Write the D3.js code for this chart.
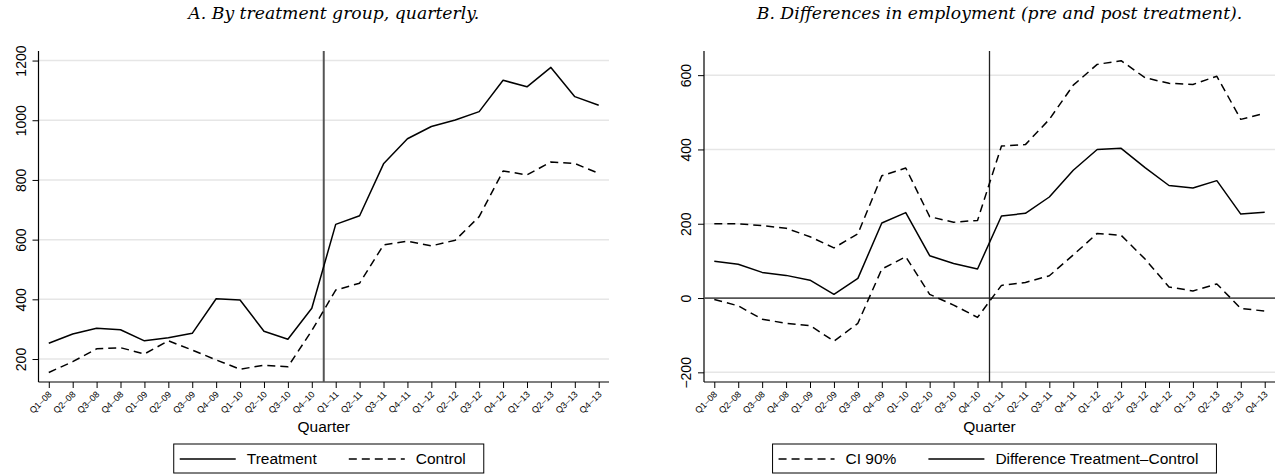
<!DOCTYPE html>
<html>
<head>
<meta charset="utf-8">
<script src="https://cdn.jsdelivr.net/npm/d3@7"></script>
<style>
  html, body { margin: 0; padding: 0; background: #fff; }
  svg { display: block; }
</style>
</head>
<body>
<svg id="chart" width="1278" height="476"></svg>
<script>
const quarters = ["Q1–08","Q2–08","Q3–08","Q4–08","Q1–09","Q2–09","Q3–09","Q4–09",
  "Q1–10","Q2–10","Q3–10","Q4–10","Q1–11","Q2–11","Q3–11","Q4–11",
  "Q1–12","Q2–12","Q3–12","Q4–12","Q1–13","Q2–13","Q3–13","Q4–13"];

const treatment = [253, 284, 303, 298, 261, 271, 286, 402, 398, 293, 266, 370,
  651, 680, 854, 938, 979, 1001, 1029, 1134, 1112, 1177, 1079, 1050];
const control = [155, 191, 234, 238, 217, 261, 230, 197, 166, 179, 174, 295,
  431, 454, 582, 595, 579, 598, 677, 830, 817, 860, 855, 822];

const difference = [99, 91, 69, 61, 48, 10, 53, 202, 230, 114, 93, 78,
  221, 228, 272, 344, 400, 403, 351, 303, 296, 316, 226, 231];
const ciUpper = [200, 200, 195, 188, 165, 135, 173, 329, 350, 219, 204, 209,
  409, 413, 481, 573, 629, 639, 593, 578, 575, 597, 481, 497];
const ciLower = [-4, -21, -57, -68, -74, -116, -68, 78, 111, 10, -19, -52,
  34, 42, 60, 116, 174, 169, 105, 30, 19, 38, -28, -35];

const yTicksA = [200, 400, 600, 800, 1000, 1200];
const yTicksB = [-200, 0, 200, 400, 600];

const titleA = "A. By treatment group, quarterly.";
const titleB = "B. Differences in employment (pre and post treatment).";
const xTitle = "Quarter";
const legendA = [{label: "Treatment", dash: null}, {label: "Control", dash: "8,5"}];
const legendB = [{label: "CI 90%", dash: "8,5"}, {label: "Difference Treatment–Control", dash: null}];

const svg = d3.select("#chart");
const SANS = "'Liberation Sans', Arial, Helvetica, sans-serif";
const SERIF = "'DejaVu Serif', 'Liberation Serif', serif";

// fit the title font so that title B spans ~486px; use the same size for A
const probe = svg.append("text").style("font-family", SERIF).style("font-style", "italic")
  .style("font-size", "14px").text(titleB);
const titleSize = 14 * 486 / probe.node().getComputedTextLength();
probe.remove();

function panel(cfg) {
  const g = svg.append("g");
  const x = d3.scalePoint().domain(quarters).range([cfg.left, cfg.right]).padding(0.43);
  const y = d3.scaleLinear().domain(cfg.yDomain).range([cfg.bottom, cfg.top]);

  // gridlines
  g.append("g").selectAll("line").data(cfg.yTicks.filter(t => t !== 0 || !cfg.zeroLine)).join("line")
    .attr("x1", cfg.left).attr("x2", cfg.right)
    .attr("y1", d => y(d)).attr("y2", d => y(d))
    .attr("stroke", "#e6e6e6").attr("stroke-width", 1.5);

  // y axis
  const yAxis = g.append("g").attr("transform", `translate(${cfg.left},0)`)
    .call(d3.axisLeft(y).tickValues(cfg.yTicks).tickSize(6).tickPadding(0).tickFormat(d3.format("d")));
  yAxis.select(".domain").attr("d", `M0,${cfg.top}V${cfg.bottom}`).attr("stroke", "#000").attr("stroke-width", 1.2);
  yAxis.selectAll(".tick line").attr("stroke", "#000").attr("stroke-width", 1);
  yAxis.selectAll(".tick text")
    .attr("transform", "rotate(-90)")
    .attr("x", 0).attr("y", -13).attr("dy", 0)
    .attr("text-anchor", "middle")
    .style("font-family", SANS).style("font-size", "14px").attr("fill", "#000");

  // x axis
  const xAxis = g.append("g").attr("transform", `translate(0,${cfg.bottom})`)
    .call(d3.axisBottom(x).tickSize(6).tickPadding(0));
  xAxis.select(".domain").attr("d", `M${cfg.left},0H${cfg.right}`).attr("stroke", "#000").attr("stroke-width", 1.2);
  xAxis.selectAll(".tick line").attr("stroke", "#000").attr("stroke-width", 1);
  xAxis.selectAll(".tick text")
    .attr("y", 0).attr("dy", 0)
    .attr("text-anchor", "end")
    .attr("transform", "translate(3,13) rotate(-45)")
    .style("font-family", SANS).style("font-size", "9px").attr("fill", "#000");

  // zero line
  if (cfg.zeroLine) {
    g.append("line").attr("x1", cfg.left).attr("x2", cfg.right)
      .attr("y1", y(0)).attr("y2", y(0))
      .attr("stroke", "#555").attr("stroke-width", 1.8);
  }

  // vertical treatment line
  const vx = (x("Q4–10") + x("Q1–11")) / 2;
  g.append("line").attr("x1", vx).attr("x2", vx).attr("y1", cfg.top).attr("y2", cfg.bottom)
    .attr("stroke", cfg.vColor).attr("stroke-width", cfg.vWidth);

  // series
  const line = d3.line().x((d, i) => x(quarters[i])).y(d => y(d));
  cfg.series.forEach(s => {
    g.append("path").datum(s.values).attr("d", line)
      .attr("fill", "none").attr("stroke", "#000").attr("stroke-width", 1.5)
      .attr("stroke-dasharray", s.dash || null).attr("stroke-linejoin", "round");
  });

  const cx = (cfg.left + cfg.right) / 2;
  // title
  g.append("text").attr("x", cx + 10).attr("y", 19).attr("text-anchor", "middle")
    .style("font-family", SERIF).style("font-style", "italic").style("font-size", titleSize + "px")
    .text(cfg.title);

  // x title
  g.append("text").attr("x", cx).attr("y", 432).attr("text-anchor", "middle")
    .style("font-family", SANS).style("font-size", "15.5px").text(xTitle);

  // legend
  const lg = g.append("g");
  const padL = 6, keyW = 56, gap = 11, itemGap = 32, padR = 18;
  const boxTop = 444, boxH = 29, textY = 464, keyY = 459;
  let cur = padL;
  cfg.legend.forEach((it, i) => {
    lg.append("line").attr("x1", cur).attr("x2", cur + keyW).attr("y1", keyY).attr("y2", keyY)
      .attr("stroke", "#000").attr("stroke-width", 1.5).attr("stroke-dasharray", it.dash);
    cur += keyW + gap;
    const t = lg.append("text").attr("x", cur).attr("y", textY)
      .style("font-family", SANS).style("font-size", "15.5px").text(it.label);
    cur += t.node().getComputedTextLength();
    if (i < cfg.legend.length - 1) cur += itemGap;
  });
  cur += padR;
  lg.insert("rect", ":first-child").attr("x", 0).attr("y", boxTop).attr("width", cur).attr("height", boxH)
    .attr("fill", "#fff").attr("stroke", "#000").attr("stroke-width", 1);
  lg.attr("transform", `translate(${cx + 5 - cur / 2},0)`);
}

panel({
  left: 38.5, right: 609, top: 51, bottom: 382,
  yDomain: [123, 1232], yTicks: yTicksA, zeroLine: false,
  vColor: "#555", vWidth: 2,
  title: titleA,
  series: [{values: treatment, dash: null}, {values: control, dash: "8,5"}],
  legend: legendA
});

panel({
  left: 704, right: 1275, top: 51, bottom: 382,
  yDomain: [-226, 665], yTicks: yTicksB, zeroLine: true,
  vColor: "#222", vWidth: 1.3,
  title: titleB,
  series: [{values: ciUpper, dash: "8,5"}, {values: ciLower, dash: "8,5"}, {values: difference, dash: null}],
  legend: legendB
});
</script>
</body>
</html>
